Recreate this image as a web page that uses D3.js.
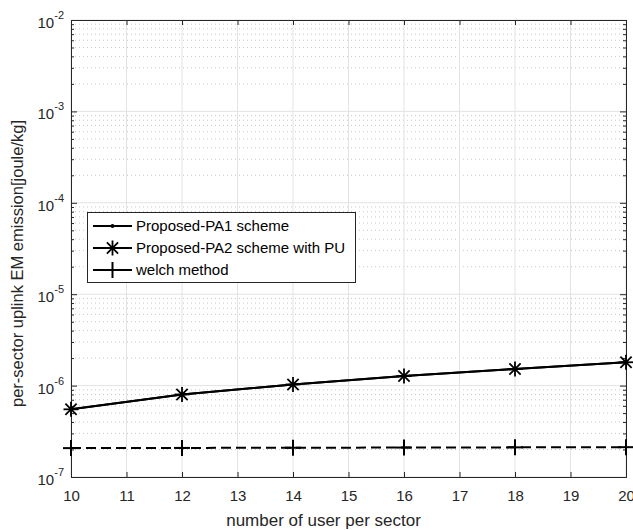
<!DOCTYPE html>
<html><head><meta charset="utf-8">
<script src="https://cdn.jsdelivr.net/npm/d3@7"></script>
<style>body{margin:0;background:#fff}svg{display:block;font-family:Arial,"Liberation Sans",sans-serif}</style>
</head><body>
<svg id="c" width="633" height="530"></svg>
<script>
const users = [10, 12, 14, 16, 18, 20];
const pa1 = [5.5e-7, 8.0e-7, 1.03e-6, 1.27e-6, 1.52e-6, 1.80e-6];
const pa2 = [5.5e-7, 8.0e-7, 1.03e-6, 1.27e-6, 1.52e-6, 1.80e-6];
const welch = [2.07e-7, 2.08e-7, 2.09e-7, 2.10e-7, 2.11e-7, 2.12e-7];
const xTicks = [10, 11, 12, 13, 14, 15, 16, 17, 18, 19, 20];
const yExps = [-7, -6, -5, -4, -3, -2];
const legendLabels = ["Proposed-PA1 scheme", "Proposed-PA2 scheme with PU", "welch method"];

const svg = d3.select("#c");
const L = 71, R = 626, T = 20, B = 477;
const x = d3.scaleLinear().domain([10, 20]).range([L, R]);
const y = d3.scaleLog().domain([1e-7, 1e-2]).range([B, T]);

const minorVals = [];
for (let e = -7; e < -2; e++) for (let m = 2; m <= 9; m++) minorVals.push(m * Math.pow(10, e));

// grid
const g = svg.append("g");
g.selectAll(".mg").data(minorVals).enter().append("line")
  .attr("x1", L).attr("x2", R).attr("y1", d => y(d)).attr("y2", d => y(d))
  .attr("stroke", "#c8c8c8").attr("stroke-width", 1).attr("stroke-dasharray", "1,3");
g.selectAll(".xg").data(xTicks).enter().append("line")
  .attr("x1", d => x(d)).attr("x2", d => x(d)).attr("y1", T).attr("y2", B)
  .attr("stroke", "#e3e3e3").attr("stroke-width", 1);
g.selectAll(".yg").data(yExps).enter().append("line")
  .attr("x1", L).attr("x2", R).attr("y1", d => y(Math.pow(10, d))).attr("y2", d => y(Math.pow(10, d)))
  .attr("stroke", "#e3e3e3").attr("stroke-width", 1);

// axes (inward ticks on all sides)
const ax = "#262626";
const bx = svg.append("g").attr("transform", `translate(0,${B})`)
  .call(d3.axisBottom(x).tickValues(xTicks).tickSize(-5).tickPadding(13).tickFormat(d3.format("d")));
const tx = svg.append("g").attr("transform", `translate(0,${T})`)
  .call(d3.axisTop(x).tickValues(xTicks).tickSize(-5).tickFormat(""));
const ly = svg.append("g").attr("transform", `translate(${L},0)`)
  .call(d3.axisLeft(y).tickValues(yExps.map(e => Math.pow(10, e))).tickSize(-6).tickFormat(""));
const ry = svg.append("g").attr("transform", `translate(${R},0)`)
  .call(d3.axisRight(y).tickValues(yExps.map(e => Math.pow(10, e))).tickSize(-6).tickFormat(""));
const lyMinor = svg.append("g").attr("transform", `translate(${L},0)`)
  .call(d3.axisLeft(y).tickValues(minorVals).tickSize(-3).tickFormat(""));
const ryMinor = svg.append("g").attr("transform", `translate(${R},0)`)
  .call(d3.axisRight(y).tickValues(minorVals).tickSize(-3).tickFormat(""));
[bx, tx, ly, ry, lyMinor, ryMinor].forEach(a => {
  a.selectAll("path").attr("stroke", ax).attr("stroke-width", 1);
  a.selectAll("line").attr("stroke", ax);
});
lyMinor.select("path").remove(); ryMinor.select("path").remove();
bx.selectAll("text").attr("font-size", 15).attr("fill", "#262626")
  .attr("font-family", "Arial, 'Liberation Sans', sans-serif");

// y tick labels with superscripts
const yl = svg.append("g");
yExps.forEach(e => {
  const t = yl.append("text").attr("x", 64).attr("y", y(Math.pow(10, e)) + 8)
    .attr("text-anchor", "end").attr("fill", "#262626").attr("font-size", 15);
  t.append("tspan").text("10");
  t.append("tspan").attr("dy", -9).attr("font-size", 11).text(String(e));
});

// axis labels
svg.append("text").attr("x", (L + R) / 2 - 25).attr("y", 526).attr("text-anchor", "middle")
  .attr("font-size", 17).attr("fill", "#262626").text("number of user per sector");
svg.append("text").attr("transform", `translate(23,${(T + B) / 2 + 15}) rotate(-90)`)
  .attr("text-anchor", "middle").attr("font-size", 16.5).attr("fill", "#262626")
  .text("per-sector uplink EM emission[joule/kg]");

// lines
const line = d3.line().x((d, i) => x(users[i])).y(d => y(d));
svg.append("path").datum(welch).attr("d", line).attr("fill", "none").attr("stroke", "#000")
  .attr("stroke-width", 2).attr("stroke-dasharray", "10,5");
svg.append("path").datum(pa1).attr("d", line).attr("fill", "none").attr("stroke", "#000").attr("stroke-width", 2);
svg.append("path").datum(pa2).attr("d", line).attr("fill", "none").attr("stroke", "#000").attr("stroke-width", 2);

function star(sel, cx, cy, r) {
  const gg = sel.append("g").attr("stroke", "#000").attr("stroke-width", 1.8);
  gg.append("line").attr("x1", cx - r).attr("x2", cx + r).attr("y1", cy).attr("y2", cy);
  gg.append("line").attr("x1", cx).attr("x2", cx).attr("y1", cy - r).attr("y2", cy + r);
  const k = r * 0.75;
  gg.append("line").attr("x1", cx - k).attr("x2", cx + k).attr("y1", cy - k).attr("y2", cy + k);
  gg.append("line").attr("x1", cx - k).attr("x2", cx + k).attr("y1", cy + k).attr("y2", cy - k);
}
function plus(sel, cx, cy, r) {
  const gg = sel.append("g").attr("stroke", "#000").attr("stroke-width", 2);
  gg.append("line").attr("x1", cx - r).attr("x2", cx + r).attr("y1", cy).attr("y2", cy);
  gg.append("line").attr("x1", cx).attr("x2", cx).attr("y1", cy - r).attr("y2", cy + r);
}
const mk = svg.append("g");
pa1.forEach((v, i) => mk.append("circle").attr("cx", x(users[i])).attr("cy", y(v)).attr("r", 2).attr("fill", "#000"));
pa2.forEach((v, i) => star(mk, x(users[i]), y(v), 7.5));
welch.forEach((v, i) => plus(mk, x(users[i]), y(v), 8));

// legend
const lg = svg.append("g");
lg.append("rect").attr("x", 87.5).attr("y", 212.5).attr("width", 268).attr("height", 70)
  .attr("fill", "#fff").attr("stroke", "#262626").attr("stroke-width", 1);
const rowsY = [226, 248, 270];
legendLabels.forEach((lab, i) => {
  const yy = rowsY[i];
  lg.append("line").attr("x1", 93).attr("x2", 132).attr("y1", yy).attr("y2", yy)
    .attr("stroke", "#000").attr("stroke-width", 2);
  if (i === 0) lg.append("circle").attr("cx", 112.5).attr("cy", yy).attr("r", 2).attr("fill", "#000");
  if (i === 1) star(lg, 112.5, yy, 7.5);
  if (i === 2) plus(lg, 112.5, yy, 8);
  lg.append("text").attr("x", 136).attr("y", yy + 5).attr("font-size", 15).attr("fill", "#000").text(lab);
});
</script>
</body></html>
